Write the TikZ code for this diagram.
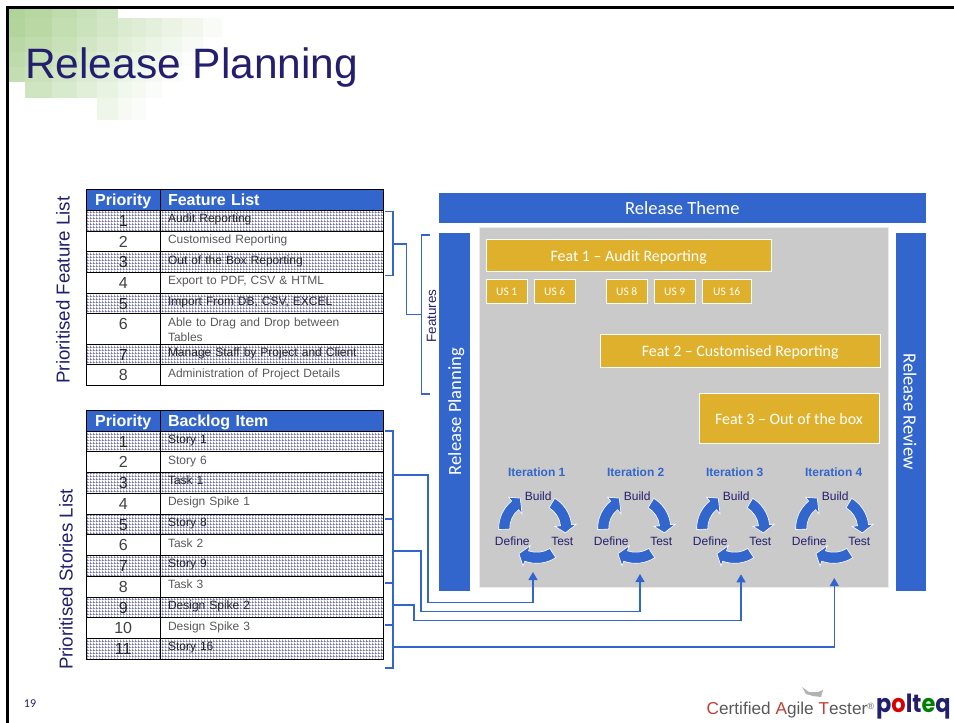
\documentclass[tikz,border=0pt]{standalone}
\usepackage{fontspec}
\setmainfont{Liberation Sans}
\newfontfamily\carlito{Carlito}
\newfontfamily\poppins{Poppins}
\usetikzlibrary{positioning,patterns,arrows.meta}

\definecolor{Azul}{RGB}{51,102,204}
\definecolor{Marino}{RGB}{35,31,110}
\definecolor{Oro}{RGB}{222,176,43}
\definecolor{Panel}{RGB}{202,202,202}
\definecolor{Baldosa}{RGB}{170,208,145}
\definecolor{LogoRojo}{RGB}{196,60,50}

\pgfdeclarepatternformonly{Tejido}{\pgfpointorigin}{\pgfqpoint{3pt}{3pt}}{\pgfqpoint{3pt}{3pt}}{
	\pgfpathrectangle{\pgfpointorigin}{\pgfqpoint{3pt}{0.9pt}}
	\pgfpathrectangle{\pgfpointorigin}{\pgfqpoint{0.9pt}{3pt}}
	\pgfusepath{fill}
}

\tikzstyle{Celda}=[rectangle, draw=black, line width=0.9pt, inner sep=0pt, outer sep=0pt]
\tikzstyle{Cabecera}=[Celda, fill=Azul, text=white, font=\fontsize{16}{18}\selectfont\bfseries, minimum height=20.6pt, text height=11.5pt, text depth=0pt]
\tikzstyle{CabPrioridad}=[Cabecera, minimum width=74.5pt]
\tikzstyle{CabItem}=[Cabecera, minimum width=222.5pt, text width=207.5pt, align=left]
\tikzstyle{Prioridad}=[Celda, text=black!75, font=\fontsize{16}{18}\selectfont, minimum width=74.5pt, text height=11.5pt, text depth=0pt]
\tikzstyle{Item}=[Celda, text=black!65, font=\fontsize{12}{15}\selectfont, minimum width=222.5pt, text width=207.5pt, align=left, text height=9pt]
\tikzstyle{FilaGris}=[preaction={fill=white}, pattern=Tejido, pattern color=Marino!70!white, text=black!85]
\tikzstyle{FilaBlanca}=[fill=white]
\tikzstyle{FilaAlta}=[fill=white, text depth=9.5pt]
\tikzstyle{Lateral}=[text=Marino, rotate=90, font=\fontsize{18.7}{22}\selectfont]
\tikzstyle{Banda}=[rectangle, draw=white, thin, fill=Azul, text=white, anchor=north west, font=\carlito\fontsize{18.6}{20}\selectfont, inner sep=0pt, text height=14pt, text depth=0pt]
\tikzstyle{Feat}=[rectangle, draw=white, thin, fill=Oro, text=white, anchor=north west, font=\carlito\fontsize{15.9}{20}\selectfont, inner sep=0pt, text height=12.5pt, text depth=0pt]
\tikzstyle{Historia}=[Feat, font=\carlito\fontsize{11.5}{14}\selectfont, minimum height=24pt, text height=7.5pt]
\tikzstyle{Iteracion}=[text=Azul, font=\fontsize{12}{14}\selectfont\bfseries]
\tikzstyle{Paso}=[text=Marino, font=\fontsize{12}{14}\selectfont, inner sep=0pt]
\tikzstyle{Giro}=[fill=Azul, draw=white, line width=0.6pt]
\tikzstyle{Corchete}=[draw=Azul, line width=1.2pt]
\tikzstyle{Flecha}=[Corchete, -{Triangle[width=9pt,length=8pt]}]

\begin{document}
\begin{tikzpicture}[x=1pt, y=-1pt]
	\useasboundingbox (0,0) rectangle (954,723);

	%Fondo
	\foreach \ya/\yb/\lo/\hi in {9/18/8/118, 18/37/8/222, 37/52/8/222, 52/67/8/222, 67/82/8/222, 82/98/25/182, 98/120/97/162} {
		\foreach \xa/\xb in {8/25, 25/52, 52/77, 77/97, 97/118, 118/132, 132/146, 146/162, 162/182, 182/203, 203/222} {
			\pgfmathsetmacro\tinte{(and(\xa>=\lo,\xb<=\hi)) ? max(0,100-0.42*\xa-0.4*\ya) : 0}
			\fill[Baldosa!\tinte!white] (\xa+0.4,\ya+0.4) rectangle (\xb-0.4,\yb-0.4);
		}
	}
	\draw[black, line width=2.6pt] (7.5,723) -- (7.5,7.5) -- (954,7.5);

	\node[text=Marino, anchor=base west, inner sep=0pt, font=\fontsize{42.5}{46}\selectfont] (titulo) at (25,78.5) {Release Planning};
	\node[text=Marino, font=\carlito\fontsize{12}{14}\selectfont] (pagina) at (30,704) {19};

	%Tabla de funciones
	\node[Lateral] (lista_feat) at (63,290) {Prioritised Feature List};
	\node[CabPrioridad] (feat_prio0) at (123.25,200) {Priority};
	\node[CabItem] (feat_item0) [right=0pt of feat_prio0] {Feature List};
	\foreach \num/\txt/\fila/\alto/\prof [remember=\num as \prev (initial 0)] in {
		1/Audit Reporting/FilaGris/20.7/5,
		2/Customised Reporting/FilaBlanca/20.7/5,
		3/Out of the Box Reporting/FilaGris/20.7/5,
		4/Export to PDF{,} CSV \& HTML/FilaBlanca/20.7/5,
		5/Import From DB{,} CSV{,} EXCEL/FilaGris/20.7/5,
		6/Able to Drag and Drop between\\Tables/FilaAlta/30.3/14.4,
		7/Manage Staff by Project and Client/FilaGris/20.7/5,
		8/Administration of Project Details/FilaBlanca/20.7/5} {
		\node[Prioridad, \fila, minimum height=\alto pt] (feat_prio\num) [below=0pt of feat_prio\prev] {\num};
		\node[Item, \fila, text depth=\prof pt, minimum height=\alto pt] (feat_item\num) [right=0pt of feat_prio\num] {\txt};
	}

	%Tabla de historias
	\node[Lateral] (lista_story) at (66,579.5) {Prioritised Stories List};
	\node[CabPrioridad] (story_prio0) at (123.25,420.7) {Priority};
	\node[CabItem] (story_item0) [right=0pt of story_prio0] {Backlog Item};
	\foreach \num/\txt/\fila [remember=\num as \prev (initial 0)] in {
		1/Story 1/FilaGris,
		2/Story 6/FilaBlanca,
		3/Task 1/FilaGris,
		4/Design Spike 1/FilaBlanca,
		5/Story 8/FilaGris,
		6/Task 2/FilaBlanca,
		7/Story 9/FilaGris,
		8/Task 3/FilaBlanca,
		9/Design Spike 2/FilaGris,
		10/Design Spike 3/FilaBlanca,
		11/Story 16/FilaGris} {
		\node[Prioridad, \fila, minimum height=20.75pt] (story_prio\num) [below=0pt of story_prio\prev] {\num};
		\node[Item, \fila, text depth=5pt, minimum height=20.75pt] (story_item\num) [right=0pt of story_prio\num] {\txt};
	}

	%Panel de la entrega
	\node[Banda, minimum width=487.7pt, minimum height=31.6pt] (theme) at (438.3,191.7) {Release Theme};
	\node[Banda, rotate=90, anchor=center, minimum width=359pt, minimum height=31.7pt] (planning) at (454.2,411.5) {Release Planning};
	\node[Banda, rotate=-90, anchor=center, minimum width=359pt, minimum height=31pt] (review) at (910.5,411.5) {Release Review};
	\node[rectangle, draw=black!8, thick, fill=Panel, anchor=north west, minimum width=408.7pt, minimum height=359.7pt, inner sep=0pt] (panel) at (479.3,227.3) {};

	\node[Feat, minimum width=285pt, minimum height=31.7pt] (feat1) at (486,239.3) {Feat 1 – Audit Reporting};
	\node[Feat, minimum width=280pt, minimum height=32.4pt] (feat2) at (600,334.3) {Feat 2 – Customised Reporting};
	\node[Feat, minimum width=180pt, minimum height=50pt] (feat3) at (698.7,393.3) {Feat 3 – Out of the box};
	\foreach \us/\xx/\ancho in {1/486/41, 6/534/41, 8/606/41, 9/654/41, 16/702/49}
		\node[Historia, minimum width=\ancho pt] (us\us) at (\xx,279.3) {US \us};

	%Iteraciones
	\foreach \i/\cx in {1/536.7, 2/635.7, 3/734.7, 4/833.7} {
		\node[Iteracion] (iter\i) at (\cx,472) {Iteration \i};
		\foreach \ang/\sx/\sy/\rt in {178/-3/0/33, 57/0/0/31, 301/0/0/29}
			\path[Giro, shift={(\cx+\sx,528.3+\sy)}] (\ang:35) arc (\ang:\ang+53:35) -- (\ang+53:40) -- (\ang+68:\rt) -- (\ang+53:18.5) -- (\ang+53:24) arc (\ang+53:\ang:24) -- cycle;
		\node[Paso] (build\i) at (\cx+1.5,496.7) {Build};
		\node[Paso] (define\i) at (\cx-24.4,541) {Define};
		\node[Paso] (test\i) at (\cx+25.6,541) {Test};
	}

	%Corchetes
	\coordinate (feat_top) at (385,211.7);
	\coordinate (feat_bot) at (385,275.7);
	\coordinate (feat_mid) at (393,244);
	\coordinate (feats_top) at (430,235);
	\coordinate (feats_bot) at (430,394);
	\coordinate (feats_in) at (421.7,314.3);
	\node[text=Marino, rotate=90, inner sep=0pt, font=\fontsize{13.5}{15}\selectfont] (features) at (431.5,316) {Features};
	\draw[Corchete] (feat_top) -- ++(8,0) |- (feat_bot);
	\draw[Corchete] (feats_top) -- ++(-8.3,0) |- (feats_bot);
	\draw[Corchete] (feat_mid) -| ++(13.7,70.3) -- (feats_in);

	\foreach \t/\yy in {1/431, 2/519, 3/583, 4/625, 5/668}
		\coordinate (story_tick\t) at (385,\yy);
	\draw[Corchete] (story_tick1) -- ++(8,0) |- (story_tick5);
	\foreach \t in {2,3,4}
		\draw[Corchete] (story_tick\t) -- ++(8,0);

	%Lineas
	\foreach \i/\yy in {1/475, 2/551, 3/605, 4/647}
		\coordinate (story_out\i) at (393,\yy);
	\foreach \i/\xx/\yy in {1/533/572, 2/640/574, 3/741/574.3, 4/834.3/578}
		\coordinate (iter_in\i) at (\xx,\yy);
	\foreach \i/\dx/\dy in {1/35/127.3, 2/28/60.5, 3/21/15.5}
		\draw[Flecha] (story_out\i) -| ++(\dx,\dy) -| (iter_in\i);
	\draw[Flecha] (story_out4) -| (iter_in4);

	%Logo
	\fill[black!30] (802,687) -- (809,692) -- (818,692) -- (823,690) -- (821,697) -- (813,696) -- (806,694) -- cycle;
	\node[text=black!65, anchor=base west, inner sep=0pt, font=\fontsize{17.2}{20}\selectfont] (logo_cat) at (706.5,714.5) {\textcolor{LogoRojo}{C}ertified \textcolor{LogoRojo}{A}gile \textcolor{LogoRojo}{T}ester\raisebox{5pt}{\fontsize{9}{9}\selectfont ®}};
	\node[text=Marino, anchor=base west, inner sep=0pt, xscale=0.9, transform shape, font=\poppins\fontsize{25}{28}\selectfont\bfseries] (logo_polteq) at (876,712) {p\textcolor{red!85!black}{o}lt\textcolor{green!50!black}{e}q};
\end{tikzpicture}
\end{document}
